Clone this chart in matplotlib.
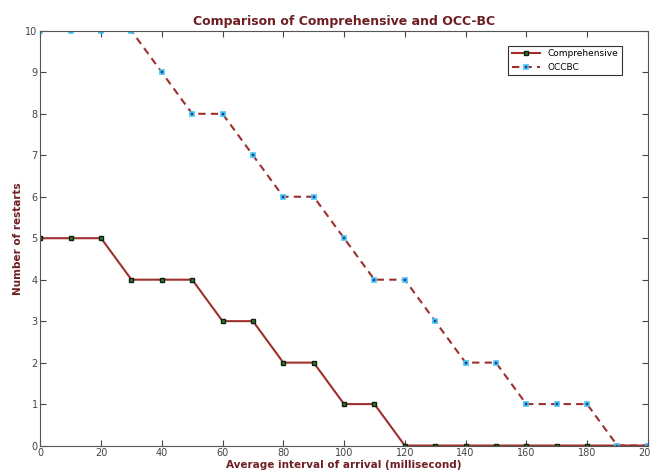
import matplotlib.pyplot as plt
import numpy as np

# arrival intervals (ms)
intervals = [0, 10, 20, 30, 40, 50, 60, 70, 80, 90, 100,
             110, 120, 130, 140, 150, 160, 170, 180, 190, 200]
comprehensive = [5, 5, 5, 4, 4, 4, 3, 3, 2, 2, 1,
                 1, 0, 0, 0, 0, 0, 0, 0, 0, 0]
occbc = [10, 10, 10, 10, 9, 8, 8, 7, 6, 6, 5,
         4, 4, 3, 2, 2, 1, 1, 1, 0, 0]

label_col = '#6e1f22'

fig = plt.figure(figsize=(6.51, 4.75), dpi=100)
ax = fig.add_axes([0.062, 0.062, 0.933, 0.873])

ax.plot(intervals, comprehensive, '-', color='#9c302c', lw=1.5,
        marker='s', ms=3.5, mfc='#2f7a2f', mec='#0f200f', mew=1.0,
        label='Comprehensive')
ax.plot(intervals, occbc, color='#9c2f2f', lw=1.5, ls=(0, (3.5, 2.5)),
        marker='s', ms=3.5, mfc='#1c3f8c', mec='#48c4f4', mew=1.2,
        label='OCCBC')

ax.set_xlim(0, 200)
ax.set_ylim(0, 10)
ax.set_xticks(np.arange(0, 201, 20))
ax.set_yticks(np.arange(0, 11, 1))
ax.tick_params(direction='in', length=4, labelsize=7, colors='#444444',
               top=True, right=True, pad=2)
for s in ax.spines.values():
    s.set_color('#555555')

ax.set_title('Comparison of Comprehensive and OCC-BC', fontsize=9,
             color=label_col, pad=4, fontweight='semibold')
ax.set_xlabel('Average interval of arrival (millisecond)', fontsize=7.5,
              fontweight='bold', color=label_col, labelpad=1)
ax.set_ylabel('Number of restarts', fontsize=7.5, fontweight='bold',
              color=label_col, labelpad=2)

leg = ax.legend(loc='upper right', fontsize=6.5, fancybox=False,
                edgecolor='#333333', framealpha=1,
                bbox_to_anchor=(0.965, 0.975), handlelength=3.2)
leg.get_frame().set_linewidth(0.8)

fig.savefig('out.png', dpi=100)
